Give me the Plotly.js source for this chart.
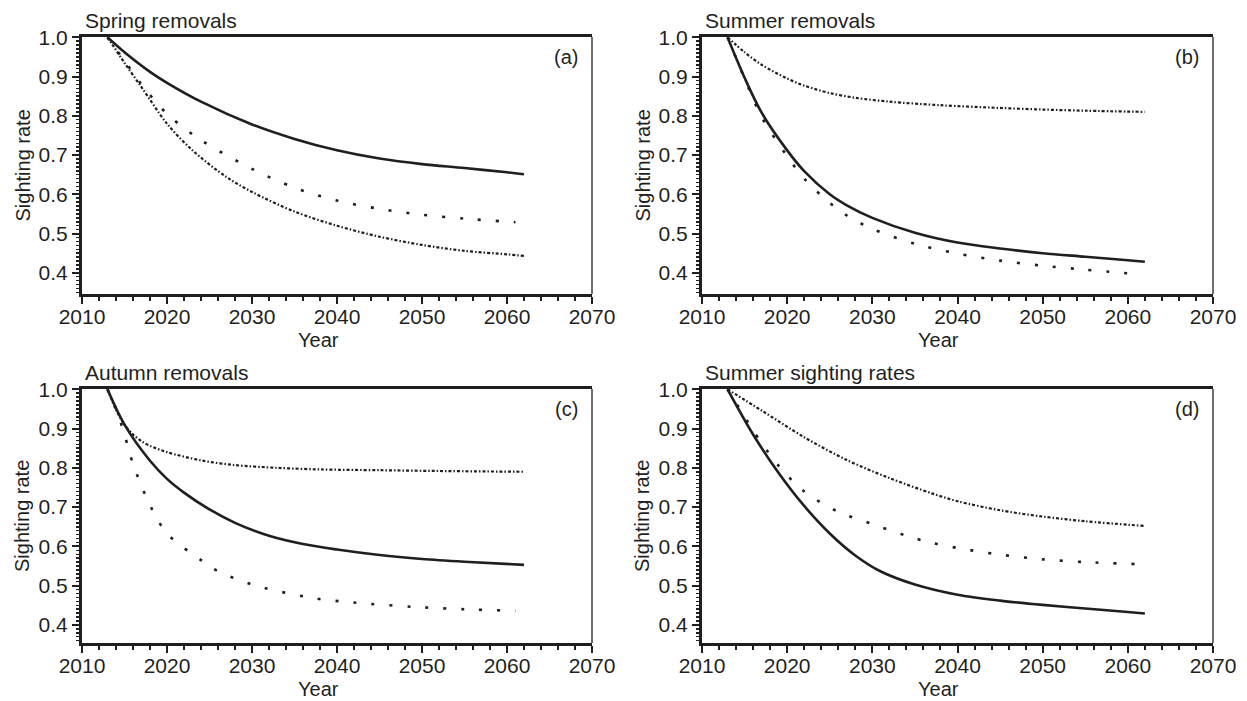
<!DOCTYPE html>
<html>
<head>
<meta charset="utf-8">
<script src="https://cdn.plot.ly/plotly-3.0.1.min.js"></script>
<style>html,body{margin:0;padding:0;background:#fff;}#chart{width:1247px;height:701px;}</style>
</head>
<body>
<div id="chart"></div>
<script>
// ---------- data ----------
const panelTitles = ["Spring removals", "Summer removals", "Autumn removals", "Summer sighting rates"];
const panelLetters = ["(a)", "(b)", "(c)", "(d)"];
const xTickYears = [2010, 2020, 2030, 2040, 2050, 2060, 2070];

// (a) Spring removals
const aSolidYears  = [2013, 2015, 2018, 2020, 2024, 2030, 2035, 2040, 2045, 2050, 2055, 2060, 2062];
const aSolidRate   = [1.0, 0.962, 0.912, 0.884, 0.836, 0.778, 0.741, 0.712, 0.691, 0.677, 0.667, 0.656, 0.651];
const aSparseYears = [2013, 2015, 2017, 2020, 2024, 2030, 2035, 2040, 2045, 2050, 2055, 2061];
const aSparseRate  = [1.0, 0.940, 0.880, 0.805, 0.738, 0.665, 0.617, 0.584, 0.563, 0.548, 0.538, 0.529];
const aDenseYears  = [2013, 2015, 2017, 2020, 2023, 2027, 2030, 2035, 2040, 2045, 2050, 2055, 2060, 2062];
const aDenseRate   = [1.0, 0.935, 0.873, 0.780, 0.712, 0.644, 0.606, 0.556, 0.520, 0.492, 0.471, 0.456, 0.447, 0.443];

// (b) Summer removals
const bSolidYears  = [2013, 2015, 2017, 2020, 2022, 2025, 2027, 2030, 2035, 2040, 2045, 2050, 2055, 2060, 2062];
const bSolidRate   = [1.0, 0.897, 0.808, 0.712, 0.659, 0.600, 0.572, 0.540, 0.502, 0.477, 0.462, 0.450, 0.441, 0.432, 0.428];
const bSparseYears = [2013, 2015, 2017, 2020, 2022, 2025, 2027, 2030, 2035, 2040, 2045, 2050, 2055, 2061];
const bSparseRate  = [1.0, 0.895, 0.797, 0.697, 0.640, 0.578, 0.546, 0.512, 0.474, 0.449, 0.431, 0.418, 0.408, 0.397];
const bDenseYears  = [2013, 2015, 2017, 2020, 2022, 2025, 2028, 2032, 2038, 2045, 2050, 2055, 2062];
const bDenseRate   = [1.0, 0.962, 0.930, 0.895, 0.877, 0.858, 0.846, 0.836, 0.827, 0.820, 0.816, 0.813, 0.810];

// (c) Autumn removals
const cSolidYears  = [2013, 2015, 2018, 2020, 2022, 2025, 2028, 2032, 2036, 2040, 2045, 2050, 2055, 2062];
const cSolidRate   = [1.0, 0.910, 0.818, 0.772, 0.737, 0.694, 0.660, 0.627, 0.606, 0.592, 0.578, 0.568, 0.561, 0.553];
const cSparseYears = [2013, 2014, 2015, 2016, 2018, 2020, 2024, 2026, 2030, 2037, 2042, 2049, 2055, 2061];
const cSparseRate  = [1.0, 0.950, 0.885, 0.810, 0.705, 0.633, 0.565, 0.537, 0.503, 0.469, 0.457, 0.446, 0.440, 0.436];
const cDenseYears  = [2013, 2014, 2015, 2016, 2017, 2018, 2020, 2024, 2028, 2033, 2038, 2045, 2052, 2062];
const cDenseRate   = [1.0, 0.948, 0.910, 0.885, 0.868, 0.856, 0.840, 0.819, 0.807, 0.800, 0.796, 0.794, 0.792, 0.790];

// (d) Summer sighting rates
const dSolidYears  = [2013, 2016, 2019, 2022, 2025, 2028, 2031, 2035, 2040, 2045, 2050, 2055, 2060, 2062];
const dSolidRate   = [1.0, 0.885, 0.787, 0.703, 0.633, 0.577, 0.536, 0.503, 0.477, 0.462, 0.451, 0.442, 0.433, 0.429];
const dSparseYears = [2013, 2015, 2016, 2019, 2022, 2026, 2030, 2034, 2037, 2040, 2045, 2050, 2055, 2061];
const dSparseRate  = [1.0, 0.930, 0.895, 0.805, 0.740, 0.688, 0.657, 0.627, 0.609, 0.596, 0.579, 0.567, 0.560, 0.555];
const dDenseYears  = [2013, 2017, 2022, 2027, 2032, 2037, 2040, 2045, 2050, 2055, 2062];
const dDenseRate   = [1.0, 0.946, 0.878, 0.820, 0.774, 0.735, 0.715, 0.692, 0.676, 0.664, 0.652];

// ---------- styling / layout ----------
const W = 1247, H = 701;
const FONT = "Liberation Sans, Arial, Helvetica, sans-serif";
const INK = "#1f1f1f";
const STYLES = {
  solid:  {color: INK, width: 2.6, dash: "solid"},
  sparse: {color: INK, width: 2.6, dash: "3px,15px"},
  dense:  {color: INK, width: 2.2, dash: "3px,2px,1.5px,2px"}
};

// pixel boxes of the four plot areas [left, right, top, bottom]
const boxes = [
  [82, 592, 37, 294],
  [702, 1213, 37, 294],
  [82, 592, 389, 643],
  [702, 1213, 389, 643]
];
const yLow = [0.346, 0.346, 0.354, 0.354];

const series = [
  [[aSolidYears, aSolidRate, "solid"], [aSparseYears, aSparseRate, "sparse"], [aDenseYears, aDenseRate, "dense"]],
  [[bSolidYears, bSolidRate, "solid"], [bSparseYears, bSparseRate, "sparse"], [bDenseYears, bDenseRate, "dense"]],
  [[cSolidYears, cSolidRate, "solid"], [cSparseYears, cSparseRate, "sparse"], [cDenseYears, cDenseRate, "dense"]],
  [[dSolidYears, dSolidRate, "solid"], [dSparseYears, dSparseRate, "sparse"], [dDenseYears, dDenseRate, "dense"]]
];

const px = x => x / W;
const py = y => 1 - y / H;

const traces = [];
const layout = {
  width: W, height: H,
  margin: {l: 0, r: 0, t: 0, b: 0},
  paper_bgcolor: "#fff", plot_bgcolor: "#fff",
  showlegend: false,
  font: {family: FONT, color: INK, size: 20},
  shapes: [], annotations: []
};

boxes.forEach((b, i) => {
  const n = i === 0 ? "" : String(i + 1);
  const xa = "x" + n, ya = "y" + n;
  series[i].forEach(s => {
    traces.push({
      type: "scatter", mode: "lines", x: s[0], y: s[1],
      xaxis: xa, yaxis: ya,
      line: Object.assign({shape: "spline", smoothing: 0.9}, STYLES[s[2]]),
      hoverinfo: "skip"
    });
  });
  layout["xaxis" + n] = {
    domain: [px(b[0]), px(b[1])], anchor: ya,
    range: [2010, 2070], tickmode: "array", tickvals: xTickYears,
    ticks: "outside", ticklen: 7, tickwidth: 2, tickcolor: INK,
    ticklabelstandoff: -5,
    showline: true, linewidth: 3, linecolor: INK, mirror: true,
    showgrid: false, zeroline: false,
    tickfont: {family: FONT, size: 21, color: INK},
    minor: {dtick: 2, tick0: 2010, ticks: "outside", ticklen: 4, tickwidth: 2, tickcolor: INK, showgrid: false}
  };
  layout["yaxis" + n] = {
    domain: [py(b[3]), py(b[2])], anchor: xa,
    range: [yLow[i], 1.0008], dtick: 0.1, tick0: 0.4, tickformat: ".1f",
    ticks: "outside", ticklen: 7, tickwidth: 2, tickcolor: INK,
    showline: true, linewidth: 3, linecolor: INK, mirror: false,
    showgrid: false, zeroline: false,
    tickfont: {family: FONT, size: 21, color: INK},
    minor: {dtick: 0.01, tick0: 0.4, ticks: "outside", ticklen: 3.5, tickwidth: 1.5, tickcolor: INK, showgrid: false}
  };
  // thin right frame line
  layout.shapes.push({
    type: "line", xref: xa + " domain", yref: ya + " domain",
    x0: 1, x1: 1, y0: 0, y1: 1, line: {color: "#4a4a4a", width: 1.6}
  });
  // panel title
  layout.annotations.push({
    text: panelTitles[i], xref: "paper", yref: "paper",
    x: px(b[0] + 1), y: py(b[2] - 17), xanchor: "left", yanchor: "middle",
    showarrow: false, font: {family: FONT, size: 21, color: INK}
  });
  // panel letter
  layout.annotations.push({
    text: panelLetters[i], xref: "paper", yref: "paper",
    x: px(b[1] - 12), y: py(b[2] + 20), xanchor: "right", yanchor: "middle",
    showarrow: false, font: {family: FONT, size: 20, color: INK}
  });
  // y title
  layout.annotations.push({
    text: "Sighting rate", xref: "paper", yref: "paper", textangle: -90,
    x: px(b[0] - 60), y: py((b[2] + b[3]) / 2), xanchor: "center", yanchor: "middle",
    showarrow: false, font: {family: FONT, size: 20, color: INK}
  });
  // x title
  layout.annotations.push({
    text: "Year", xref: "paper", yref: "paper",
    x: px(b[0] + 236), y: py(b[3] + 46), xanchor: "center", yanchor: "middle",
    showarrow: false, font: {family: FONT, size: 20, color: INK}
  });
});

Plotly.newPlot("chart", traces, layout, {staticPlot: true, displayModeBar: false});
</script>
</body>
</html>
